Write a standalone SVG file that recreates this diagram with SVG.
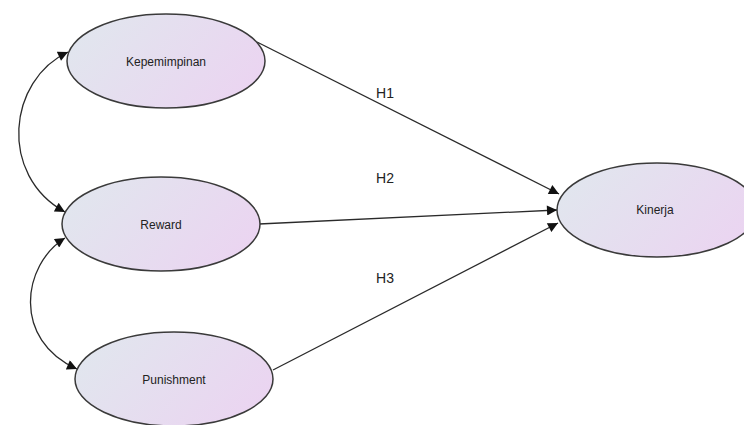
<svg xmlns="http://www.w3.org/2000/svg" width="744" height="425" viewBox="0 0 744 425">
<style>
.node ellipse{fill:url(#g);stroke:#3a3a3a;stroke-width:1.5}
.node text{font-family:"Liberation Sans",Arial,sans-serif;font-size:12px;fill:#222;text-anchor:middle;dominant-baseline:central}
.lbl{font-family:"Liberation Sans",Arial,sans-serif;font-size:14px;fill:#222;text-anchor:middle}
.conn path{fill:none;stroke:#2a2a2a;stroke-width:1.3}
</style>
<defs>
<linearGradient id="g" x1="0" y1="0.3" x2="1" y2="0.7">
<stop offset="0" stop-color="#e1e6ee"/>
<stop offset="1" stop-color="#ebd4f1"/>
</linearGradient>
<marker id="a" viewBox="0 0 10 10" refX="10" refY="5" markerWidth="12" markerHeight="10" markerUnits="userSpaceOnUse" orient="auto-start-reverse">
<path d="M0,0 L10,5 L0,10 z" fill="#111"/>
</marker>
</defs>
<rect width="744" height="425" fill="#fff"/>
<g class="conn">
<path d="M257,42 L559,194" marker-end="url(#a)"/>
<path d="M259,224 L557,210" marker-end="url(#a)"/>
<path d="M273,370 L558,223" marker-end="url(#a)"/>
<path d="M68,52 C 8,80 -2,175 65,212" marker-start="url(#a)" marker-end="url(#a)"/>
<path d="M65,238 C 22,265 12,340 77,369" marker-start="url(#a)" marker-end="url(#a)"/>
</g>
<text class="lbl" x="385" y="98">H1</text>
<text class="lbl" x="385" y="183">H2</text>
<text class="lbl" x="385" y="283">H3</text>
<g id="kepemimpinan" class="node"><ellipse cx="166" cy="61" rx="99" ry="47"/><text x="166" y="62">Kepemimpinan</text></g>
<g id="reward" class="node"><ellipse cx="161" cy="224" rx="99" ry="47"/><text x="161" y="225">Reward</text></g>
<g id="punishment" class="node"><ellipse cx="174" cy="379" rx="99" ry="47"/><text x="174" y="380">Punishment</text></g>
<g id="kinerja" class="node"><ellipse cx="657" cy="210" rx="100" ry="47"/><text x="655" y="210">Kinerja</text></g>
</svg>
